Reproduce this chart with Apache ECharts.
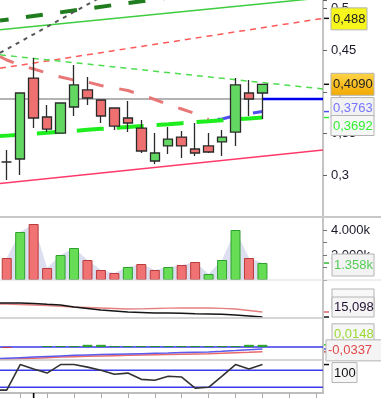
<!DOCTYPE html>
<html><head><meta charset="utf-8">
<script src="https://cdn.jsdelivr.net/npm/echarts@6/dist/echarts.min.js"></script>
<style>html,body{margin:0;padding:0;background:#fff}#c{width:381px;height:398px}</style>
</head><body><div id="c"></div>
<script>
// ---------- data ----------
const idx    = [0,1,2,3,4,5,6,7,8,9,10,11,12,13,14,15,16,17,18,19];
const opens  = [0.3159,0.3195,0.4165,0.3698,0.3506,0.3818,0.4022,0.3902,0.3806,0.3686,0.3566,0.3171,0.3351,0.3458,0.3315,0.3351,0.3399,0.3518,0.3986,0.3986];
const closes = [0.3159,0.3986,0.3686,0.3554,0.3866,0.4082,0.3926,0.3710,0.3590,0.3626,0.3291,0.3267,0.3434,0.3351,0.3267,0.3279,0.3458,0.4082,0.3914,0.4090];
const lows   = [0.2943,0.3003,0.3566,0.3518,0.3506,0.3710,0.3842,0.3626,0.3542,0.3518,0.3267,0.3135,0.3255,0.3207,0.3231,0.3267,0.3231,0.3351,0.3710,0.3674];
const highs  = [0.3303,0.3986,0.4405,0.3842,0.3866,0.4321,0.4177,0.3902,0.3806,0.3890,0.3662,0.3506,0.3578,0.3530,0.3626,0.3506,0.3542,0.4165,0.4141,0.4090];

const volumes = [1760,3840,4480,960,2000,2560,1600,800,560,1040,1280,800,1040,1200,1440,480,1600,4000,1760,1358];
const volDir  = ['d','u','d','d','u','u','d','d','d','u','d','d','u','d','d','u','u','u','d','u'];

// trend lines: [x index, price] end points
const trendDarkGreen  = [[-0.5,0.4853],[23.5,0.5383]];
const trendLightGreen = [[-0.5,0.4745],[23.5,0.5127]];
const trendDotted     = [[-0.5,0.4466],[7,0.5136]];
const trendRedDash    = [[-0.5,0.4282],[23.5,0.4880]];
const trendGreenDash  = [[-0.5,0.4443],[23.5,0.4034]];
const trendPink       = [[-0.5,0.2901],[23.5,0.3303]];
const levelLine       = 0.3914;

// moving averages (left edge point first)
const maX      = [-0.5,0,1,2,3,4,5,6,7,8,9,10,11,12,13,14,15,16,17,18,19];
const maSalmon = [0.4423,0.4381,0.4321,0.4273,0.4225,0.4177,0.4141,0.4117,0.4076,0.4046,0.4016,0.3962,0.3908,0.3848,0.3794,0.3740,0.3668,null,null,null,null];
const maBlue   = [null,null,null,null,null,null,null,null,null,null,null,null,null,null,null,null,0.3668,0.3674,0.3716,0.3740,0.3763];
const maLime   = [0.3469,0.3475,0.3486,0.3498,0.3509,0.3521,0.3532,0.3544,0.3556,0.3566,0.3578,0.3589,0.3601,0.3612,0.3624,0.3636,0.3647,0.3659,0.3669,0.3681,0.3692];

// pane 3
const p3Black = [16.5,16.5,16.5,16.45,16.37,16.3,16.1,15.95,15.8,15.7,15.6,15.55,15.5,15.5,15.47,15.43,15.4,15.37,15.3,15.2,15.098];
const p3Red   = [16.4,16.4,16.35,16.3,16.25,16.17,16.1,16.05,16.0,15.95,15.9,15.92,15.95,15.98,16.0,16.0,16.0,15.97,15.9,15.75,15.6];
// pane 4 (MACD)
const macdLine = [-0.080,-0.078,-0.074,-0.070,-0.066,-0.062,-0.058,-0.055,-0.052,-0.050,-0.048,-0.046,-0.044,-0.042,-0.038,-0.036,-0.034,-0.030,-0.025,-0.019,-0.014];
const macdSig  = [-0.087,-0.085,-0.082,-0.078,-0.074,-0.070,-0.067,-0.064,-0.062,-0.060,-0.058,-0.056,-0.054,-0.052,-0.050,-0.048,-0.046,-0.043,-0.040,-0.037,-0.0337];
const macdHist = [-0.006,null,null,0.006,0.006,0.006,0.0148,0.0148,0.006,0.006,0.006,0.006,0.006,0.006,0.006,0.006,0.006,0.006,0.0148,0.0148];
// pane 5 (oscillator)
const osc = [10,10,100,84,70,100,100,91,80,66,70,48,45,59,56,17,20,59,100,84,100];
const oscLevels = [80,20];

const xTicks = [1,3,5,7,9,11,13,15,17,19,21,23];

// ---------- chart ----------
const chart = echarts.init(document.getElementById('c'));
const FONT = 'Liberation Sans, Arial, sans-serif';
const G = [{top:0,h:217},{top:217,h:63},{top:280,h:38},{top:318,h:42},{top:360,h:33}];
const pair = (xs, ys) => xs.map((x,i)=>[x, ys[i]]);
const line = (data, color, width, type, extra) => Object.assign({
  type:'line', xAxisIndex:0, yAxisIndex:0, data, symbol:'none', silent:true,
  lineStyle:{color, width, type: type||'solid'}, z:3
}, extra||{});

function priceFmt(v){
  const r = Math.round(v*100)/100;
  if (Math.abs(v-r) > 1e-6 || r < 0.29 || r > 0.505) return '';
  return String(r).replace('.', ',');
}

const yBase = {type:'value', position:'right', splitLine:{show:false},
  axisLine:{show:true, onZero:false, lineStyle:{color:'#c4c4c4', width:2}},
  axisTick:{show:false}, axisLabel:{show:false}};

const option = {
  animation:false,
  backgroundColor:'#ffffff',
  grid: G.map(g=>({left:-1.7, right:58, top:g.top, height:g.h})),
  xAxis: G.map((g,i)=>({
    type:'value', gridIndex:i, min:-0.5, max:23.5, show: i===4,
    splitLine:{show:false},
    axisLine:{show:true, onZero:false, lineStyle:{color:'#bdbdbd', width:2}},
    axisTick:{show:true, length:5, customValues:xTicks, lineStyle:{color:'#aaaaaa'}},
    axisLabel:{show:false}
  })),
  yAxis: [
    Object.assign({}, yBase, {gridIndex:0, min:0.25, max:0.51, interval:0.05,
      axisTick:{show:true, length:4, lineStyle:{color:'#666'}},
      axisLabel:{show:true, margin:8, color:'#1a1a2a', fontSize:13, fontFamily:FONT, formatter:priceFmt}}),
    Object.assign({}, yBase, {gridIndex:1, min:0, max:5040, interval:1000,
      axisTick:{show:true, length:4, lineStyle:{color:'#777'}},
      axisLabel:{show:true, margin:8, color:'#1a1a2a', fontSize:13, fontFamily:FONT,
        formatter:v => (v===2000||v===4000) ? (v/1000).toFixed(3)+'k' : ''}}),
    Object.assign({}, yBase, {gridIndex:2, min:15.0, max:18.8}),
    Object.assign({}, yBase, {gridIndex:3, min:-0.09, max:0.2}),
    Object.assign({}, yBase, {gridIndex:4, min:0, max:116})
  ],
  series: [
    line([[-0.5,levelLine],[19,levelLine]], '#9a9a9a', 1.5, 'solid', {z:1}),
    line([[19,levelLine],[23.5,levelLine]], '#0000ee', 2.5),
    line(trendPink, '#ff3a6a', 1.5),
    line(trendDarkGreen, '#1f7d1f', 4, [17,17.5], {lineStyle:{color:'#1f7d1f', width:4, type:[17,17.5], dashOffset:8.3}}),
    line(trendLightGreen, '#3fcc3f', 1.5),
    line(trendDotted, '#555555', 2, [4,5]),
    line(trendRedDash, '#ff5a5a', 1.5, [6,5]),
    line(trendGreenDash, '#4fdc4f', 1.5, [6,5]),
    line(pair(maX, maSalmon), '#e87878', 3, [15,16], {lineStyle:{color:'#e87878', width:3, type:[15,16], dashOffset:0}}),
    line(pair(maX, maBlue), '#5050ee', 3, [20,16], {lineStyle:{color:'#5050ee', width:3, type:[20,16], dashOffset:27}}),
    line(pair(maX, maLime), '#1eee1e', 4, [27,13], {lineStyle:{color:'#1eee1e', width:4, type:[27,13], dashOffset:3}}),
    {
      type:'candlestick', xAxisIndex:0, yAxisIndex:0, z:5, barWidth:10, silent:true,
      data: idx.map(i=>[i, opens[i], closes[i], lows[i], highs[i]]),
      encode:{x:0, y:[1,2,3,4]},
      itemStyle:{color:'#62d862', color0:'#ee7070', borderColor:'#2a2a2a', borderColor0:'#2a2a2a', borderWidth:1.3}
    },
    // volume
    {type:'line', xAxisIndex:1, yAxisIndex:1, data: idx.map(i=>[i, volumes[i]]), symbol:'none', silent:true,
      lineStyle:{width:0}, areaStyle:{color:'#dcdff0', opacity:1}, z:1},
    {type:'bar', xAxisIndex:1, yAxisIndex:1, barWidth:10, silent:true, z:2,
      data: idx.map(i=>({value:[i, volumes[i]], itemStyle: volDir[i]==='u'
        ? {color:'#66dd55', borderColor:'#2f9f2f', borderWidth:1}
        : {color:'#f07272', borderColor:'#b83c3c', borderWidth:1}}))},
    // pane 3
    line(pair(maX, p3Red), '#e58080', 1.3, 'solid', {xAxisIndex:2, yAxisIndex:2}),
    line(pair(maX, p3Black), '#151515', 1.6, 'solid', {xAxisIndex:2, yAxisIndex:2}),
    // pane 4
    line([[-0.5,0],[23.5,0]], '#3a3aee', 1.5, 'solid', {xAxisIndex:3, yAxisIndex:3, z:2}),
    {type:'bar', xAxisIndex:3, yAxisIndex:3, barWidth:10, silent:true, z:4,
      data: idx.map(i=>({value:[i, macdHist[i]], itemStyle: macdHist[i] < 0
        ? {color:'#cc3333'}
        : (macdHist[i] > 0.01 ? {color:'#66dd66', borderColor:'#239a23', borderWidth:1} : {color:'#1f8f1f'})}))},
    line(pair(maX, macdSig), '#e86a6a', 1.5, 'solid', {xAxisIndex:3, yAxisIndex:3}),
    line(pair(maX, macdLine), '#5a5aee', 1.5, 'solid', {xAxisIndex:3, yAxisIndex:3}),
    // pane 5
    line([[-0.5,oscLevels[0]],[23.5,oscLevels[0]]], '#3a3aee', 1.5, 'solid', {xAxisIndex:4, yAxisIndex:4, z:2}),
    line([[-0.5,oscLevels[1]],[23.5,oscLevels[1]]], '#3a3aee', 1.5, 'solid', {xAxisIndex:4, yAxisIndex:4, z:2}),
    line(pair(maX, osc), '#333333', 1.6, 'solid', {xAxisIndex:4, yAxisIndex:4})
  ]
};
chart.setOption(option);

// ---------- annotations ----------
const py = (g, v) => chart.convertToPixel({gridIndex:g}, [0, v])[1];
const pxX = (g, x) => chart.convertToPixel({gridIndex:g}, [x, 0])[0];
const fmt = (v, d) => v.toFixed(d).replace('.', ',');
const orange = new echarts.graphic.LinearGradient(0,0,0,1,[{offset:0,color:'#ffd54a'},{offset:1,color:'#f2a900'}]);
const tags = [
  {g:0, v:trendRedDash[1][1], text:fmt(trendRedDash[1][1],3), dy:0.5, x:331, w:36, h:22, fill:'#f6f61c', color:'#222'},
  {g:0, v:closes[19], text:fmt(closes[19],4), dy:0, x:331, w:43, h:22, fill:orange, color:'#222'},
  {g:0, v:maBlue[20], text:fmt(maBlue[20],4), dy:-4, x:331, w:43, h:20, fill:'#f2f2f2', color:'#7474ff', tick:'#5050ee'},
  {g:0, v:maLime[20], text:fmt(maLime[20],4), dy:8, x:331, w:43, h:20, fill:'#f7f7f7', color:'#33ee33', tick:'#33ee33'},
  {g:1, v:volumes[19], text:(volumes[19]/1000).toFixed(3)+'k', dy:2, x:332, w:42, h:22, fill:'#f3f3f3', color:'#55cc55', tick:'#33bb33'},
  {g:2, v:p3Red[20], text:'', dy:-13, x:332, w:42, h:20, fill:'#f8f8f8', color:'#222', tick:'#e06060'},
  {g:2, v:p3Black[20], text:fmt(p3Black[20],3), dy:-10, x:332, w:42, h:20, fill:'#f5f5f5', color:'#221133', tick:'#111'},
  {g:3, v:macdHist[19], text:fmt(macdHist[19],4), dy:-11, x:332, w:42, h:20, fill:'#f6f6f6', color:'#9ad933', tick:'#33cc33'},
  {g:3, v:macdLine[20], text:null, tick:'#5050ee'},
  {g:3, v:macdSig[20], text:fmt(macdSig[20],4), dy:-1.5, x:326, w:56, h:21, fill:'#f4f4f4', color:'#e04848', tick:'#e04848'},
  {g:4, v:osc[20], text:String(osc[20]), dy:8, x:332, w:25, h:20, fill:'#f6f6f6', color:'#111', tick:'#111'}
];
const gr = [];
// pane separators
[[217,381,'#c8c8c8',2],[280,381,'#dddddd',1],[318,323,'#c8c8c8',1.5],[360,323,'#c8c8c8',1.5]].forEach(s=>{
  gr.push({type:'line', z:50, silent:true, shape:{x1:0,y1:s[0],x2:s[1],y2:s[0]}, style:{stroke:s[2], lineWidth:s[3]}});
});
tags.forEach(t=>{
  const y = py(t.g, t.v);
  gr.push({type:'line', z:60, silent:true, shape:{x1:324,y1:y,x2:329,y2:y}, style:{stroke:t.tick||'#111', lineWidth:1.5}});
});
tags.forEach(t=>{
  if (t.text === null) return;
  const c = py(t.g, t.v) + t.dy;
  gr.push({type:'rect', z:70, silent:true, shape:{x:t.x, y:c - t.h/2, width:t.w, height:t.h},
    style:{fill:t.fill, stroke:'#b4b4b4', lineWidth:1}});
  if (t.text) gr.push({type:'text', z:71, silent:true,
    style:{text:t.text, x:t.x+2, y:c+0.5, fill:t.color, font:'13px ' + FONT, align:'left', verticalAlign:'middle'}});
});
// black marker tick on the time axis
const bx = pxX(4, 2);
gr.push({type:'line', z:60, silent:true, shape:{x1:bx,y1:393,x2:bx,y2:398}, style:{stroke:'#000', lineWidth:1.6}});
chart.setOption({graphic: gr});
</script>
</body></html>
